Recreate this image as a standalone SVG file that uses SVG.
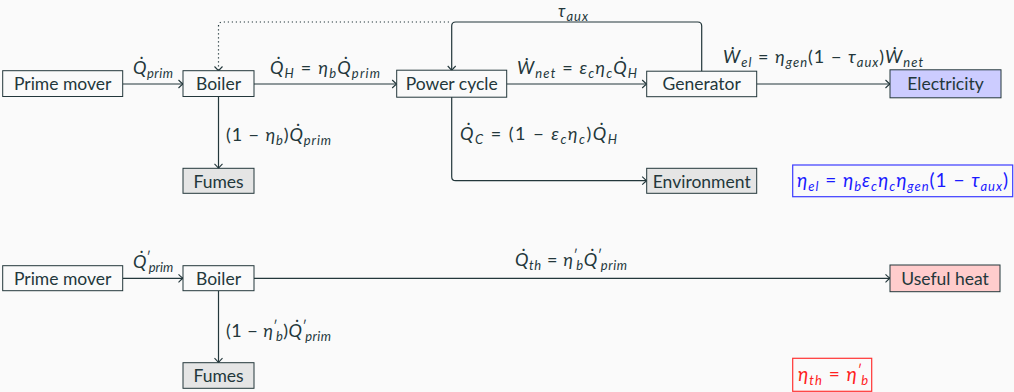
<svg xmlns="http://www.w3.org/2000/svg" width="1014" height="392" viewBox="0 0 1014 392">
<defs>
<style>
.bg{fill:#fafafa}
.box{fill:#fafafa;stroke:#23373b;stroke-width:1}
.gray{fill:#e5e5e5}
.blue{fill:#ccccff}
.red{fill:#ffcccc}
.t{font-family:Lato,"Open Sans",sans-serif;font-size:17.5px;fill:#23373b;text-anchor:middle}
.m{font-family:Lato,"Open Sans",sans-serif;font-size:18px;font-style:italic;fill:#23373b}
.u{font-style:normal}
.s{font-size:13px;baseline-shift:-4px}
.p{font-size:13px;baseline-shift:6px;font-style:normal}
.c{fill:none;stroke:#23373b;stroke-width:1.2}
.dot{stroke-dasharray:1.2 2.8}
</style>
<marker id="ar" markerUnits="userSpaceOnUse" markerWidth="12" markerHeight="12" viewBox="-6 -6 12 12" refX="0" refY="0" orient="auto">
<path d="M-4.5,-4 Q-1.5,-1 0,0 Q-1.5,1 -4.5,4" fill="none" stroke="#23373b" stroke-width="1.1"/>
</marker>
</defs>
<rect class="bg" x="0" y="0" width="1014" height="392"/>

<g id="connectors">
<path class="c" marker-end="url(#ar)" d="M122.7 84 H183"/>
<path class="c" marker-end="url(#ar)" d="M254 84 H396.7"/>
<path class="c" marker-end="url(#ar)" d="M506.7 84 H646.7"/>
<path class="c" marker-end="url(#ar)" d="M756.7 84 H890"/>
<path class="c" marker-end="url(#ar)" d="M218.5 96.5 V168.3"/>
<path class="c" marker-end="url(#ar)" d="M451.7 97 V176.7 Q451.7 180.7 455.7 180.7 H646.7"/>
<path class="c" marker-end="url(#ar)" d="M701.7 71.5 V26 Q701.7 22 697.7 22 H455.7 Q451.7 22 451.7 26 V70.5"/>
<path class="c dot" marker-end="url(#ar)" d="M449 22 H222.5 Q218.5 22 218.5 26 V71"/>
<path class="c" marker-end="url(#ar)" d="M122.7 278.3 H183"/>
<path class="c" marker-end="url(#ar)" d="M254 278.3 H890"/>
<path class="c" marker-end="url(#ar)" d="M218.5 291 V362.7"/>
</g>

<g id="labels">
<text class="m" x="133" y="74" textLength="40" lengthAdjust="spacing">Q̇<tspan class="s">prim</tspan></text>
<text class="m" x="270" y="74" textLength="110" lengthAdjust="spacing">Q̇<tspan class="s">H</tspan><tspan class="u"> = </tspan>η<tspan class="s">b</tspan>Q̇<tspan class="s">prim</tspan></text>
<text class="m" x="226" y="141" textLength="105" lengthAdjust="spacing"><tspan class="u">(1 − </tspan>η<tspan class="s">b</tspan><tspan class="u">)</tspan>Q̇<tspan class="s">prim</tspan></text>
<text class="m" x="558" y="17" textLength="30" lengthAdjust="spacing" style="font-size:17px">τ<tspan class="s">aux</tspan></text>
<text class="m" x="517" y="74" textLength="120" lengthAdjust="spacing">Ẇ<tspan class="s">net</tspan><tspan class="u"> = </tspan>ε<tspan class="s">c</tspan>η<tspan class="s">c</tspan>Q̇<tspan class="s">H</tspan></text>
<text class="m" x="723" y="63" textLength="200" lengthAdjust="spacing">Ẇ<tspan class="s">el</tspan><tspan class="u"> = </tspan>η<tspan class="s">gen</tspan><tspan class="u">(1 − </tspan>τ<tspan class="s">aux</tspan><tspan class="u">)</tspan>Ẇ<tspan class="s">net</tspan></text>
<text class="m" x="460" y="140" textLength="157" lengthAdjust="spacing">Q̇<tspan class="s">C</tspan><tspan class="u"> = (1 − </tspan>ε<tspan class="s">c</tspan>η<tspan class="s">c</tspan><tspan class="u">)</tspan>Q̇<tspan class="s">H</tspan></text>
<text class="m" x="133" y="268">Q̇<tspan class="p">′</tspan><tspan class="s" dx="-2">prim</tspan></text>
<text class="m" x="515" y="266" textLength="112" lengthAdjust="spacing">Q̇<tspan class="s">th</tspan><tspan class="u"> = </tspan>η<tspan class="p">′</tspan><tspan class="s" dx="-2">b</tspan>Q̇<tspan class="p">′</tspan><tspan class="s" dx="-2">prim</tspan></text>
<text class="m" x="226" y="337" textLength="105" lengthAdjust="spacing"><tspan class="u">(1 − </tspan>η<tspan class="p">′</tspan><tspan class="s" dx="-2">b</tspan><tspan class="u">)</tspan>Q̇<tspan class="p">′</tspan><tspan class="s" dx="-2">prim</tspan></text>
</g>

<g id="n-prime1"><rect class="box" x="2.7" y="70.7" width="120" height="25.8"/><text class="t" x="62.7" y="90">Prime mover</text></g>
<g id="n-boiler1"><rect class="box" x="183" y="70.7" width="71" height="25.8"/><text class="t" x="218.5" y="90">Boiler</text></g>
<g id="n-power"><rect class="box" x="396.7" y="70.2" width="110" height="27"/><text class="t" x="451.7" y="90">Power cycle</text></g>
<g id="n-gen"><rect class="box" x="646.7" y="71.2" width="110" height="25.5"/><text class="t" x="701.7" y="90">Generator</text></g>
<g id="n-elec"><rect class="box blue" x="890" y="69.8" width="111" height="28"/><text class="t" x="945.5" y="90">Electricity</text></g>
<g id="n-fumes1"><rect class="box gray" x="183" y="168.3" width="71" height="25"/><text class="t" x="218.5" y="187.5">Fumes</text></g>
<g id="n-env"><rect class="box gray" x="646.7" y="168.3" width="110" height="25"/><text class="t" x="701.7" y="187.5">Environment</text></g>
<g id="n-eff-el"><rect x="792.7" y="165" width="220" height="31.7" fill="none" stroke="#3b3bff" stroke-width="1.2"/><text class="m" x="797" y="187" textLength="211" lengthAdjust="spacing" style="fill:#1a1aff;font-size:19px">η<tspan class="s">el</tspan><tspan class="u"> = </tspan>η<tspan class="s">b</tspan>ε<tspan class="s">c</tspan>η<tspan class="s">c</tspan>η<tspan class="s">gen</tspan><tspan class="u">(1 − </tspan>τ<tspan class="s">aux</tspan><tspan class="u">)</tspan></text></g>

<g id="n-prime2"><rect class="box" x="2.7" y="265.7" width="120" height="25"/><text class="t" x="62.7" y="284.5">Prime mover</text></g>
<g id="n-boiler2"><rect class="box" x="183" y="265.7" width="71" height="25"/><text class="t" x="218.5" y="284.5">Boiler</text></g>
<g id="n-heat"><rect class="box red" x="890" y="265" width="110" height="26.7"/><text class="t" x="945" y="284.5">Useful heat</text></g>
<g id="n-fumes2"><rect class="box gray" x="183" y="362.7" width="71" height="25.6"/><text class="t" x="218.5" y="381.5">Fumes</text></g>
<g id="n-eff-th"><rect x="792.7" y="358.3" width="79" height="33" fill="none" stroke="#ff3333" stroke-width="1.2"/><text class="m" x="798" y="381" textLength="70" lengthAdjust="spacing" style="fill:#ff2020;font-size:19px">η<tspan class="s">th</tspan><tspan class="u"> = </tspan>η<tspan class="p">′</tspan><tspan class="s" dx="-2">b</tspan></text></g>
</svg>
